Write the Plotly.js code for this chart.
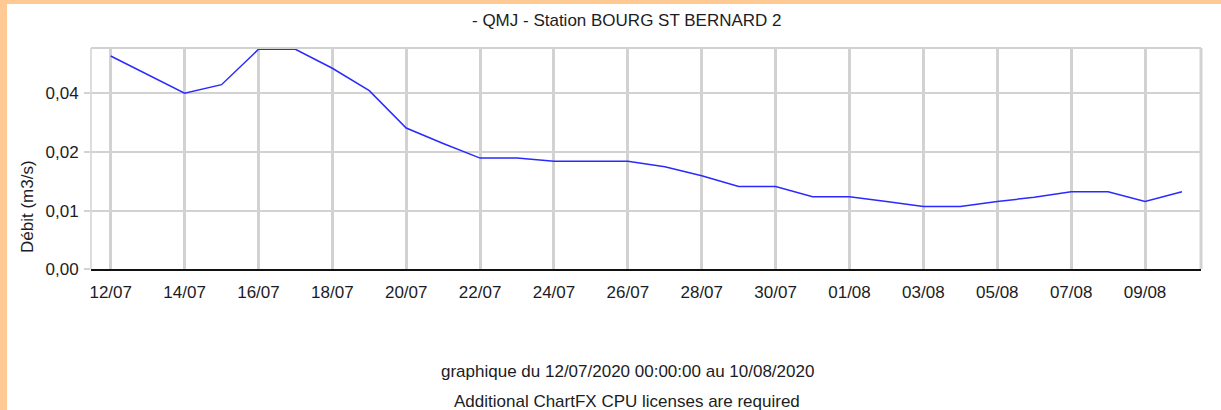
<!DOCTYPE html>
<html>
<head>
<meta charset="utf-8">
<script src="https://cdn.plot.ly/plotly-3.0.1.min.js"></script>
<style>
  html, body { margin: 0; padding: 0; background: #ffc994; width: 1221px; height: 410px; overflow: hidden; }
  #chart { position: absolute; left: 7px; top: 4px; width: 1214px; height: 406px; background: #ffffff; }
</style>
</head>
<body>
<div id="chart"></div>
<script>
// ---- data ----
const dates = [
  '2020-07-12','2020-07-13','2020-07-14','2020-07-15','2020-07-16','2020-07-17',
  '2020-07-18','2020-07-19','2020-07-20','2020-07-21','2020-07-22','2020-07-23',
  '2020-07-24','2020-07-25','2020-07-26','2020-07-27','2020-07-28','2020-07-29',
  '2020-07-30','2020-07-31','2020-08-01','2020-08-02','2020-08-03','2020-08-04',
  '2020-08-05','2020-08-06','2020-08-07','2020-08-08','2020-08-09','2020-08-10'
];
const debit = [
  0.0619, 0.0497, 0.0400, 0.0442, 0.0669, 0.0669,
  0.0536, 0.0412, 0.0266, 0.0222, 0.0187, 0.0187,
  0.0180, 0.0180, 0.0180, 0.0169, 0.0152, 0.0134,
  0.0134, 0.0119, 0.0119, 0.01125, 0.0106, 0.0106,
  0.01125, 0.0118, 0.0126, 0.0126, 0.01125, 0.0126
];
const yTickVals = [0.0051, 0.01, 0.02, 0.04];
const yTickText = ['0,00', '0,01', '0,02', '0,04'];
const chartTitle = '- QMJ - Station BOURG ST BERNARD 2';
const yTitle = 'Débit (m3/s)';
const footer1 = 'graphique du 12/07/2020 00:00:00 au 10/08/2020';
const footer2 = 'Additional ChartFX CPU licenses are required';

// ---- layout ----
const FONT = 'Arial, "Liberation Sans", sans-serif';
const TXT = '#1c1c24';
const GRID = '#d2d2d2';
const W = 1214, H = 406;
const M = { l: 84, r: 20, t: 44, b: 141 };
const pw = W - M.l - M.r, ph = H - M.t - M.b;
const px = (x) => (x - M.l) / pw;          // div px -> paper x
const py = (y) => (H - M.b - y) / ph;      // div px -> paper y

const trace = {
  x: dates, y: debit, type: 'scatter', mode: 'lines',
  line: { color: '#2a2aff', width: 1.5 },
  hoverinfo: 'x+y'
};

const layout = {
  width: W, height: H,
  margin: M,
  paper_bgcolor: '#ffffff', plot_bgcolor: '#ffffff',
  font: { family: FONT, size: 17, color: TXT },
  showlegend: false,
  xaxis: {
    type: 'date',
    range: ['2020-07-11 11:12', '2020-08-10 12:22'],
    tick0: '2020-07-12', dtick: 2 * 86400000,
    tickformat: '%d/%m',
    showgrid: true, gridcolor: GRID, gridwidth: 3,
    ticks: '', showline: true, linecolor: '#111111', linewidth: 2,
    zeroline: false,
    tickfont: { family: FONT, size: 17, color: TXT },
    ticklabelstandoff: 7
  },
  yaxis: {
    type: 'log',
    range: [-2.2928, -1.1678],
    tickvals: yTickVals, ticktext: yTickText,
    showgrid: true, gridcolor: GRID, gridwidth: 2,
    ticks: 'outside', ticklen: 6, tickcolor: GRID, tickwidth: 2,
    showline: false, zeroline: false,
    tickfont: { family: FONT, size: 17, color: TXT },
    ticklabelstandoff: 2
  },
  shapes: [
    { type: 'line', xref: 'paper', yref: 'paper', x0: 0, x1: 1, y0: 1, y1: 1,
      line: { color: GRID, width: 2 } },
    { type: 'line', xref: 'paper', yref: 'paper', x0: 1, x1: 1, y0: 0, y1: 1,
      line: { color: GRID, width: 3 } },
    { type: 'line', xref: 'paper', yref: 'paper', x0: 0, x1: 0, y0: 0, y1: 1,
      line: { color: GRID, width: 1.5 } }
  ],
  annotations: [
    { text: chartTitle, xref: 'paper', yref: 'paper', x: px(620), y: py(16),
      xanchor: 'center', yanchor: 'middle', showarrow: false,
      font: { family: FONT, size: 17, color: TXT } },
    { text: yTitle, xref: 'paper', yref: 'paper', x: px(20), y: py(203),
      xanchor: 'center', yanchor: 'middle', showarrow: false, textangle: -90,
      font: { family: FONT, size: 17, color: TXT } },
    { text: footer1, xref: 'paper', yref: 'paper', x: px(620), y: py(367.7),
      xanchor: 'center', yanchor: 'middle', showarrow: false,
      font: { family: FONT, size: 17, color: TXT } },
    { text: footer2, xref: 'paper', yref: 'paper', x: px(620), y: py(397.5),
      xanchor: 'center', yanchor: 'middle', showarrow: false,
      font: { family: FONT, size: 17, color: TXT } }
  ]
};

Plotly.newPlot('chart', [trace], layout, { displayModeBar: false, staticPlot: true });
</script>
</body>
</html>
